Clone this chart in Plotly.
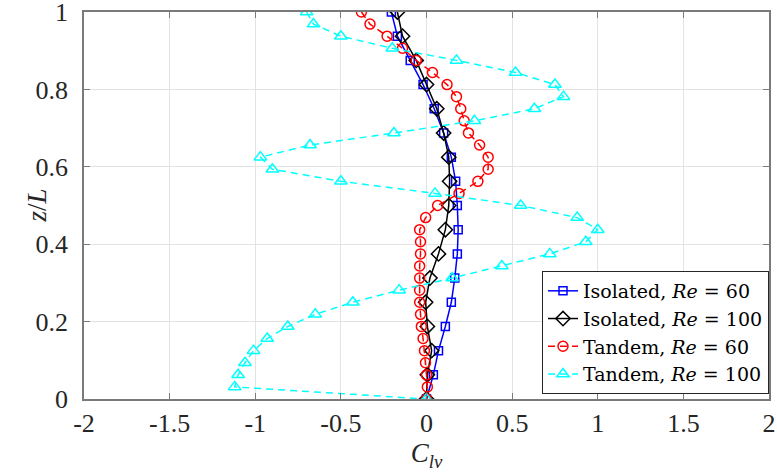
import plotly.graph_objects as go

# z/L positions
z16 = [i / 16 for i in range(16, -1, -1)]
z32 = [i / 32 for i in range(32, -1, -1)]

iso60 = [-0.205, -0.17, -0.095, -0.02, 0.045, 0.10, 0.145, 0.17, 0.18, 0.185,
         0.18, 0.165, 0.145, 0.11, 0.07, 0.04, 0.0]
iso100 = [-0.17, -0.14, -0.06, 0.0, 0.06, 0.10, 0.13, 0.135, 0.13, 0.11,
          0.07, 0.02, -0.005, 0.005, 0.03, 0.005, 0.0]
tan60 = [-0.38, -0.33, -0.23, -0.14, -0.06, 0.035, 0.12, 0.175, 0.20, 0.22,
         0.245, 0.31, 0.36, 0.36, 0.30, 0.19, 0.065, -0.005, -0.04, -0.035,
         -0.035, -0.04, -0.04, -0.04, -0.04, -0.035, -0.03, -0.02, -0.012,
         -0.006, 0.0, 0.005, 0.0]
tan100 = [-0.70, -0.66, -0.50, -0.20, 0.175, 0.52, 0.75, 0.80, 0.63, 0.28,
          -0.19, -0.68, -0.97, -0.90, -0.50, 0.05, 0.55, 0.88, 1.00, 0.93,
          0.72, 0.44, 0.15, -0.16, -0.43, -0.65, -0.81, -0.93, -1.01, -1.06,
          -1.10, -1.12, 0.0]

xticks = [-2, -1.5, -1, -0.5, 0, 0.5, 1, 1.5, 2]
xticklabels = ["-2", "-1.5", "-1", "-0.5", "0", "0.5", "1", "1.5", "2"]
yticks = [0, 0.2, 0.4, 0.6, 0.8, 1]
yticklabels = ["0", "0.2", "0.4", "0.6", "0.8", "1"]

names = ["Isolated, <i>Re</i> = 60", "Isolated, <i>Re</i> = 100",
         "Tandem, <i>Re</i> = 60", "Tandem, <i>Re</i> = 100"]

FONT = "Liberation Serif, Times New Roman, serif"
LFONT = "DejaVu Serif, serif"

fig = go.Figure()
fig.add_trace(go.Scatter(x=iso60, y=z16, mode="lines+markers", name=names[0],
                         line=dict(color="#0000FF", width=1.5),
                         marker=dict(symbol="square-open", size=8, color="#0000FF",
                                     line=dict(width=1.5, color="#0000FF"))))
fig.add_trace(go.Scatter(x=iso100, y=z16, mode="lines+markers", name=names[1],
                         line=dict(color="#000000", width=1.5),
                         marker=dict(symbol="diamond-open", size=11, color="#000000",
                                     line=dict(width=1.5, color="#000000"))))
fig.add_trace(go.Scatter(x=tan60, y=z32, mode="lines+markers", name=names[2],
                         line=dict(color="#FF0000", width=1.5, dash="7px,5px"),
                         marker=dict(symbol="circle-open", size=10, color="#FF0000",
                                     line=dict(width=1.5, color="#FF0000"))))
fig.add_trace(go.Scatter(x=tan100, y=z32, mode="lines+markers", name=names[3],
                         line=dict(color="#00FFFF", width=1.5, dash="7px,5px"),
                         marker=dict(symbol="triangle-up-open", size=11, color="#00FFFF",
                                     line=dict(width=1.5, color="#00FFFF"))))

axis_common = dict(
    showgrid=True, gridcolor="#e3e3e3", gridwidth=1,
    showline=True, linecolor="#7a7a7a", linewidth=1.5, mirror="ticks",
    ticks="inside", ticklen=6, tickwidth=1, tickcolor="#7a7a7a",
    zeroline=False, ticklabeloverflow="allow", automargin=False,
    tickfont=dict(family=FONT, size=26, color="#262626"),
)

fig.update_xaxes(range=[-2, 2], tickvals=xticks, ticktext=xticklabels,
                 title=dict(text="<i>C</i><sub><i>lv</i></sub>",
                            font=dict(family=FONT, size=27, color="#262626"),
                            standoff=6),
                 **axis_common)
fig.update_yaxes(range=[0, 1], tickvals=yticks, ticktext=yticklabels,
                 ticklabelstandoff=9,
                 **axis_common)

fig.add_annotation(text="<i>z</i>/<i>L</i>", textangle=-90,
                   xref="paper", yref="paper", x=(36 - 84) / 685, y=0.5,
                   xanchor="center", yanchor="middle", showarrow=False,
                   font=dict(family=FONT, size=27, color="#262626"))

fig.update_layout(
    width=777, height=474,
    margin=dict(l=84, r=8, t=12, b=75),
    paper_bgcolor="white", plot_bgcolor="white",
    font=dict(family=FONT, color="#262626"),
    legend=dict(x=1.0, y=0.013, xanchor="right", yanchor="bottom",
                bgcolor="white", bordercolor="#262626", borderwidth=1,
                font=dict(family=LFONT, size=19, color="#000000"),
                itemwidth=30, tracegroupgap=0),
    showlegend=True,
)

fig.write_html("out.html")
